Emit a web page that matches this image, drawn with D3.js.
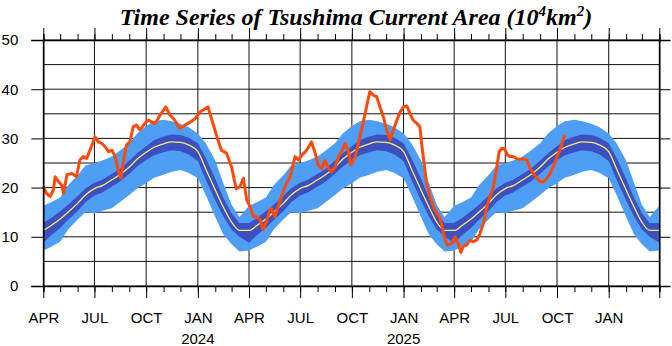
<!DOCTYPE html>
<html>
<head>
<meta charset="utf-8">
<script src="https://cdn.jsdelivr.net/npm/d3@7"></script>
<style>
  body { margin: 0; background: #fff; }
  svg { display: block; }
</style>
</head>
<body>
<svg id="chart" width="672" height="346"></svg>
<script>
// Annual climatology nodes (month-day), starting in April
const climNodes = ["04-01","04-15","05-01","05-15","06-01","06-15","07-01","07-15",
  "08-01","08-15","09-01","09-15","10-01","10-15","11-01","11-15","12-01","12-15",
  "01-01","01-15","02-01","02-15","03-01","03-15"];
const climMean    = [11.3,12.3,13.6,15.0,16.8,18.5,19.8,20.4,21.6,22.6,24.2,25.8,27.2,28.2,28.9,29.3,29.2,28.7,27.3,23.8,19.5,16.1,13.0,11.3];
const climInnerHi = [12.8,13.8,15.2,16.5,18.3,19.8,21.0,21.6,22.8,23.8,25.5,27.0,28.4,29.6,30.4,30.8,30.7,30.2,29.0,26.0,21.8,18.0,14.8,12.8];
const climInnerLo = [ 8.8,10.3,11.8,13.4,15.2,17.0,18.4,19.0,20.2,21.2,22.8,24.3,25.6,26.6,27.2,27.6,27.4,26.8,25.4,21.6,17.4,14.2,11.5,10.0];
const climOuterHi = [16.3,17.0,18.0,20.5,22.5,24.5,25.0,25.5,26.3,27.5,29.0,31.0,32.5,33.5,33.8,33.5,33.0,32.3,31.0,29.0,25.5,21.0,16.5,14.0];
const climOuterLo = [ 7.2, 8.0, 9.0,11.5,13.5,15.0,14.8,15.3,15.8,17.0,18.5,19.8,20.9,22.0,22.6,23.2,23.6,23.0,21.9,18.5,14.0,10.5, 8.5, 7.0];
const climSeasons = [2023, 2024, 2025];

// Observed Tsushima Current area (10^4 km^2)
const obsDates = ["2023-04-01","2023-04-07","2023-04-13","2023-04-19","2023-04-22","2023-04-28","2023-05-04","2023-05-07",
  "2023-05-13","2023-05-22","2023-05-30","2023-06-05","2023-06-11","2023-06-17","2023-06-23","2023-07-02","2023-07-08",
  "2023-07-14","2023-07-20","2023-07-26","2023-08-01","2023-08-07","2023-08-12","2023-08-17","2023-08-21","2023-08-27",
  "2023-09-02","2023-09-08","2023-09-14","2023-09-20","2023-09-29","2023-10-05","2023-10-17","2023-10-26","2023-11-05",
  "2023-11-12","2023-11-21","2023-11-30","2023-12-09","2023-12-18","2023-12-27","2024-01-05","2024-01-19","2024-01-26",
  "2024-02-04","2024-02-12","2024-02-21","2024-03-01","2024-03-09","2024-03-16","2024-03-22","2024-03-28","2024-04-03",
  "2024-04-09","2024-04-15","2024-04-21","2024-04-26","2024-05-02","2024-05-08","2024-05-11","2024-05-17","2024-05-23",
  "2024-05-29","2024-06-04","2024-06-13","2024-06-22","2024-06-28","2024-07-04","2024-07-10","2024-07-15","2024-07-21",
  "2024-07-27","2024-08-02","2024-08-08","2024-08-14","2024-08-20","2024-08-26","2024-09-01","2024-09-07","2024-09-13",
  "2024-09-19","2024-09-25","2024-09-29","2024-10-07","2024-10-12","2024-10-21","2024-10-27","2024-11-02","2024-11-08",
  "2024-11-14","2024-11-20","2024-11-26","2024-12-02","2024-12-08","2024-12-14","2024-12-20","2024-12-26","2025-01-01",
  "2025-01-07","2025-01-12","2025-01-18","2025-01-24","2025-01-30","2025-02-02","2025-02-05","2025-02-11","2025-02-17",
  "2025-02-23","2025-03-01","2025-03-07","2025-03-13","2025-03-19","2025-03-28","2025-04-03","2025-04-08","2025-04-13",
  "2025-04-17","2025-04-23","2025-04-29","2025-05-05","2025-05-11","2025-05-17","2025-05-23","2025-05-29","2025-06-04",
  "2025-06-10","2025-06-16","2025-06-20","2025-06-25","2025-06-30","2025-07-05","2025-07-09","2025-07-15","2025-07-21",
  "2025-07-27","2025-08-02","2025-08-08","2025-08-14","2025-08-20","2025-08-26","2025-09-01","2025-09-07","2025-09-13",
  "2025-09-19","2025-09-24","2025-09-30","2025-10-06","2025-10-11","2025-10-15"];
const obsValues = [20.2,18.8,18.2,19.5,22.2,21.2,20.5,18.8,
  22.6,22.9,22.2,25.6,26.3,25.9,27.6,30.3,29.3,
  29.0,28.3,27.3,27.6,26.3,23.6,21.9,24.9,28.7,
  29.3,32.4,32.7,31.7,33.1,33.7,33.0,34.8,36.4,
  34.8,33.7,32.0,32.7,33.3,34.0,35.4,36.4,33.7,
  30.3,27.6,27.0,24.2,19.8,20.2,21.9,17.5,16.1,
  14.1,14.1,13.4,11.4,13.1,15.4,15.8,14.1,16.1,
  18.2,20.2,22.2,26.3,25.6,26.6,27.3,28.0,29.3,
  27.3,24.6,23.9,25.6,23.9,23.2,24.2,26.3,27.3,
  29.0,27.3,24.6,26.3,28.7,33.1,36.4,39.5,38.8,
  38.5,36.4,34.4,31.7,29.7,31.7,33.7,35.4,36.4,
  36.6,35.1,33.7,33.1,32.4,29.0,26.3,20.9,18.2,
  16.1,14.8,13.8,10.7,8.3,8.7,10.0,8.7,6.8,
  8.0,8.3,9.3,9.0,9.3,10.7,12.7,16.1,18.2,
  20.2,24.2,27.3,28.0,27.8,26.6,26.3,26.3,25.9,
  25.7,25.9,25.6,23.9,22.9,21.9,21.2,21.2,21.9,
  22.9,24.2,25.9,27.6,29.3,30.7];

// Axis settings
const xStart = "2023-04-01", xEnd = "2026-04-01";
const yTicks = [0, 10, 20, 30, 40, 50];
const yGrid = [0, 5, 10, 15, 20, 25, 30, 35, 40, 45, 50];
const monthNames = ["JAN","FEB","MAR","APR","MAY","JUN","JUL","AUG","SEP","OCT","NOV","DEC"];
const yearLabels = [2024, 2025];
const titleMain = "Time Series of Tsushima Current Area (10";

const parse = d3.timeParse("%Y-%m-%d");
const W = 672, H = 346;
const margin = { left: 43.3, right: 12.7, top: 40, bottom: 60 };

const x = d3.scaleTime().domain([parse(xStart), parse(xEnd)]).range([margin.left, W - margin.right]);
const y = d3.scaleLinear().domain([0, 50]).range([H - margin.bottom, margin.top]);

// Expand the annual climatology across each season
const clim = [];
climSeasons.forEach(yr => {
  climNodes.forEach((md, i) => {
    const m = +md.slice(0, 2);
    const dYear = m >= 4 ? yr : yr + 1;
    clim.push({ date: parse(dYear + "-" + md), mean: climMean[i], iLo: climInnerLo[i], iHi: climInnerHi[i], oLo: climOuterLo[i], oHi: climOuterHi[i] });
  });
});
clim.push({ date: parse(xEnd), mean: climMean[0], iLo: climInnerLo[0], iHi: climInnerHi[0], oLo: climOuterLo[0], oHi: climOuterHi[0] });

const obs = obsDates.map((d, i) => ({ date: parse(d), v: obsValues[i] }));

const svg = d3.select("#chart");

// Grid
const grid = svg.append("g").attr("stroke", "#111").attr("stroke-width", 1);
const quarterTicks = d3.timeMonth.every(3).range(parse(xStart), d3.timeDay.offset(parse(xEnd), 1));
grid.selectAll("line.v").data(quarterTicks).join("line")
  .attr("x1", d => x(d)).attr("x2", d => x(d))
  .attr("y1", y(0)).attr("y2", y(50));
grid.selectAll("line.h").data(yGrid).join("line")
  .attr("x1", x.range()[0]).attr("x2", x.range()[1])
  .attr("y1", d => y(d)).attr("y2", d => y(d));

// Climatology bands
const plot = svg.append("g");
plot.append("path").datum(clim)
  .attr("fill", "#4e9ef5")
  .attr("d", d3.area().x(d => x(d.date)).y0(d => y(d.oLo)).y1(d => y(d.oHi)));
plot.append("path").datum(clim)
  .attr("fill", "#3e4fc2")
  .attr("d", d3.area().x(d => x(d.date)).y0(d => y(d.iLo)).y1(d => y(d.iHi)));
plot.append("path").datum(clim)
  .attr("fill", "none").attr("stroke", "#f2ee6a").attr("stroke-width", 1.3)
  .attr("d", d3.line().x(d => x(d.date)).y(d => y(d.mean)).curve(d3.curveMonotoneX));

// Observed series
plot.append("path").datum(obs)
  .attr("fill", "none").attr("stroke", "#ff4a0a").attr("stroke-width", 3)
  .attr("stroke-linejoin", "round")
  .attr("d", d3.line().x(d => x(d.date)).y(d => y(d.v)));

// Axes
const endDate = parse(xEnd);
const fmt = d => (+d === +endDate ? "" : monthNames[d.getMonth()]);
const allMonths = d3.timeMonth.range(parse(xStart), d3.timeDay.offset(parse(xEnd), 1));

function styleAxis(g) {
  g.select(".domain").attr("stroke", "#000").attr("stroke-width", 1.5);
  g.selectAll(".tick line").attr("stroke", "#000").attr("stroke-width", 1);
  g.selectAll("text").attr("font-family", "'Liberation Sans', Arial, sans-serif").attr("font-size", 15).attr("fill", "#000");
}

// bottom minor + major
svg.append("g").attr("transform", `translate(0,${y(0)})`)
  .call(d3.axisBottom(x).tickValues(allMonths).tickSize(6).tickFormat(""))
  .call(styleAxis);
svg.append("g").attr("transform", `translate(0,${y(0)})`)
  .call(d3.axisBottom(x).tickValues(quarterTicks).tickSize(12).tickPadding(14).tickFormat(fmt))
  .call(styleAxis)
  .call(g => g.select(".domain").remove());

// year labels under January
svg.append("g").selectAll("text").data(yearLabels).join("text")
  .attr("x", d => x(parse(d + "-01-01")))
  .attr("y", 344)
  .attr("text-anchor", "middle")
  .attr("font-family", "'Liberation Sans', Arial, sans-serif").attr("font-size", 15)
  .text(d => d);

// top
svg.append("g").attr("transform", `translate(0,${y(50)})`)
  .call(d3.axisTop(x).tickValues(allMonths).tickSize(6).tickFormat(""))
  .call(styleAxis);
svg.append("g").attr("transform", `translate(0,${y(50)})`)
  .call(d3.axisTop(x).tickValues(quarterTicks).tickSize(12).tickFormat(""))
  .call(styleAxis)
  .call(g => g.select(".domain").remove());

// left
svg.append("g").attr("transform", `translate(${x.range()[0]},0)`)
  .call(d3.axisLeft(y).tickValues(yTicks).tickSize(12).tickPadding(13).tickFormat(d3.format("d")))
  .call(styleAxis);
// right
svg.append("g").attr("transform", `translate(${x.range()[1]},0)`)
  .call(d3.axisRight(y).tickValues(yTicks).tickSize(11).tickFormat(""))
  .call(styleAxis);

// Title
const title = svg.append("text")
  .attr("x", 356).attr("y", 25)
  .attr("text-anchor", "middle")
  .attr("font-family", "'Liberation Serif', 'Times New Roman', serif")
  .attr("font-weight", "bold").attr("font-style", "italic")
  .attr("font-size", 24);
title.append("tspan").text(titleMain);
title.append("tspan").attr("dy", -9).attr("font-size", 15).text("4");
title.append("tspan").attr("dy", 9).text("km");
title.append("tspan").attr("dy", -9).attr("font-size", 15).text("2");
title.append("tspan").attr("dy", 9).text(")");
</script>
</body>
</html>
